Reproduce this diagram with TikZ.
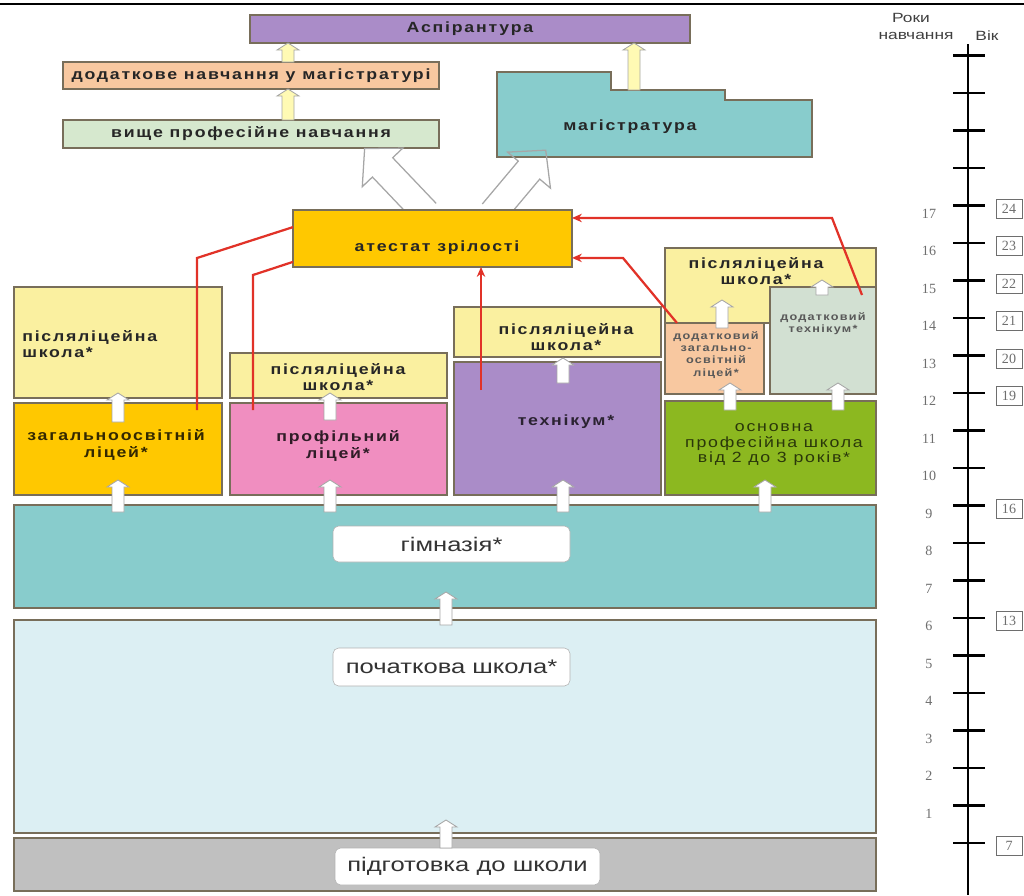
\documentclass[tikz,border=0pt]{standalone}
\usepackage{fontspec}
\setmainfont{Liberation Sans}
\newfontfamily\labfont[FakeStretch=1.2,LetterSpace=12]{Liberation Sans}
\newfontfamily\tagfont[FakeStretch=1.3]{Liberation Sans}
\newfontfamily\numfont{Liberation Serif}
\usetikzlibrary{arrows.meta,calc}
\definecolor{boxline}{RGB}{120,110,90}
\definecolor{lila}{RGB}{170,140,200}
\definecolor{peach}{RGB}{248,200,160}
\definecolor{palegreen}{RGB}{214,232,206}
\definecolor{teal2}{RGB}{136,204,204}
\definecolor{gold}{RGB}{255,200,0}
\definecolor{paleyellow}{RGB}{250,240,160}
\definecolor{pink2}{RGB}{240,142,192}
\definecolor{leaf}{RGB}{140,184,32}
\definecolor{sage}{RGB}{210,224,210}
\definecolor{paleblue}{RGB}{220,239,243}
\definecolor{prepgray}{RGB}{192,192,192}
\definecolor{redline}{RGB}{225,50,40}
\definecolor{arrowyellow}{RGB}{255,250,180}
\definecolor{scalegray}{RGB}{110,110,110}
% block arrow pointing up: x, y of base, y of tip
\newcommand\blockup[4][white]{\filldraw[up,fill=#1] (#2-6,#3) -- (#2-6,#4+7)
  -- (#2-11,#4+7) -- (#2,#4) -- (#2+11,#4+7) -- (#2+6,#4+7) -- (#2+6,#3) -- cycle;}
% big open arrow: x, y of base, angle, length
\newcommand\bigarr[4]{\draw[hollow,shift={(#1,#2)},rotate=#3] (0,-14) -- (#4-26,-14)
  -- (#4-26,-28) -- (#4,0) -- (#4-26,28) -- (#4-26,14) -- (0,14);}
\begin{document}
\begin{tikzpicture}[x=0.025cm,y=-0.025cm,
  box/.style={draw=boxline,line width=0.9pt,inner sep=0pt,outer sep=0pt},
  sz/.style 2 args={minimum width=#1*0.025cm,minimum height=#2*0.025cm},
  lab/.style={font=\labfont\bfseries\fontsize{10.5}{11.5}\selectfont,align=center,text=black!85,inner sep=0pt},
  small/.style={font=\labfont\bfseries\fontsize{7.5}{8.6}\selectfont,align=center,text=black!65,inner sep=0pt},
  tag/.style={draw=gray!60,fill=white,rounded corners=4pt,inner sep=0pt,font=\tagfont\fontsize{14}{16}\selectfont,text=black!80},
  up/.style={draw=gray!70,line width=0.6pt},
  hollow/.style={draw=gray!70,line width=0.9pt},
  redl/.style={draw=redline,line width=1.6pt},
  num/.style={font=\numfont\fontsize{10}{12}\selectfont,text=scalegray},
  age/.style={draw=scalegray,line width=0.6pt,sz={26}{19},inner sep=0pt,font=\numfont\fontsize{10}{12}\selectfont,text=scalegray},
  hdr/.style={font=\tagfont\fontsize{9.5}{11}\selectfont,text=black!75}]
\useasboundingbox (0,0) rectangle (1024,895);
\draw[line width=1.5pt] (0,4) -- (1024,4);

% higher education
\node[box,fill=lila,sz={440}{28},lab] (asp) at (470,29) {Аспірантура};
\node[box,fill=peach,sz={376}{27},lab] (dodmag) at (251,75.5) {додаткове навчання у магістратурі};
\node[box,fill=palegreen,sz={376}{28},lab] (vpn) at (251,134) {вище професійне навчання};
\draw[box,fill=teal2] (497,72) -- (611,72) -- (611,90) -- (725,90) -- (725,100)
  -- (812,100) -- (812,157) -- (497,157) -- cycle;
\node[lab] (mag) at (630,127) {магістратура};
\blockup[arrowyellow]{288}{62}{43}
\blockup[arrowyellow]{288}{120}{89}
\blockup[arrowyellow]{634}{90}{43}
\bigarr{426}{213}{133.6}{89}
\bigarr{493}{213}{50}{82}
\node[box,fill=gold,sz={279}{57}] (atest) at (432.5,238.5) {};
\node[lab] (atestT) at (437,248) {атестат зрілості};

% secondary level
\node[box,fill=paleyellow,sz={208}{111}] (pl1) at (118,342.5) {};
\node[box,fill=gold,sz={208}{92}] (zlic) at (118,449) {};
\node[box,fill=paleyellow,sz={217}{45}] (pl2) at (338.5,375.5) {};
\node[box,fill=pink2,sz={217}{92}] (plic) at (338.5,449) {};
\node[box,fill=paleyellow,sz={207}{50}] (pl3) at (557.5,332) {};
\node[box,fill=lila,sz={207}{133}] (tech) at (557.5,428.5) {};
\node[box,fill=paleyellow,sz={211}{75}] (pl4) at (770.5,285.5) {};
\node[box,fill=peach,sz={99}{71}] (dzl) at (714.5,358.5) {};
\node[box,fill=sage,sz={106}{107}] (dtech) at (823,340.5) {};
\node[box,fill=leaf,sz={211}{94}] (osn) at (770.5,448) {};
\node[lab,anchor=west,align=left] (pl1T) at (22,344) {післяліцейна\\школа*};
\node[lab,text=black!80!gold] (zlicT) at (116,445) {загальноосвітній\\ліцей*};
\node[lab] (pl2T) at (338,377) {післяліцейна\\школа*};
\node[lab,text=black!80!pink2] (plicT) at (338,446) {профільний\\ліцей*};
\node[lab] (pl3T) at (566,337) {післяліцейна\\школа*};
\node[lab,text=black!75!lila] (techT) at (566,422) {технікум*};
\node[lab] (pl4T) at (756,271) {післяліцейна\\школа*};
\node[small] (dzlT) at (716,355) {додатковий\\загально-\\освітній\\ліцей*};
\node[small] (dtechT) at (823,324) {додатковий\\технікум*};
\node[lab,font=\labfont\fontsize{10.5}{11}\selectfont,text=black!70!leaf] (osnT) at (774,445)
  {основна\\професійна школа\\від 2 до 3 років*};

% basic levels
\node[box,fill=teal2,sz={862}{103}] (gym) at (445,556.5) {};
\node[box,fill=paleblue,sz={862}{213}] (poch) at (445,726.5) {};
\node[box,fill=prepgray,sz={862}{53}] (prep) at (445,864.5) {};
\node[tag,sz={237}{36}] (gymT) at (451.5,544) {гімназія*};
\node[tag,sz={237}{38}] (pochT) at (451.5,667) {початкова школа*};
\node[tag,sz={265}{37}] (prepT) at (467.5,866.5) {підготовка до школи};

% transitions
\blockup{118}{422}{393} \blockup{330}{420}{393} \blockup{563}{383}{358}
\blockup{722}{328}{300} \blockup{822}{295}{280}
\blockup{730}{410}{383} \blockup{838}{410}{383}
\foreach \x in {118,330,563,765} {\blockup{\x}{512}{480}}
\blockup{446}{625}{592} \blockup{446}{848}{820}

% routes to the certificate
\coordinate (z1) at (197,410); \coordinate (p1) at (253,410);
\coordinate (t1) at (481,390); \coordinate (d1) at (677,323);
\coordinate (d2) at (862,295);
\draw[redl] (z1) -- ++(0,-152) -- ($(atest.north west)!.3!(atest.south west)$);
\draw[redl] (p1) -- ++(0,-135) -- ($(atest.north west)!.91!(atest.south west)$);
\draw[redl,-{Stealth[length=7pt,width=6pt]}] (t1) -- (t1 |- atest.south);
\draw[redl,-{Stealth[length=7pt,width=6pt]}] (d1) -- ++(-54,-65)
  -- ($(atest.north east)!.84!(atest.south east)$);
\draw[redl,-{Stealth[length=7pt,width=6pt]}] (d2) -- ++(-30,-77)
  -- ($(atest.north east)!.14!(atest.south east)$);

% scale of years
\node[hdr] (roky) at (911,18) {Роки};
\node[hdr] (navch) at (916,36) {навчання};
\node[hdr] (vik) at (987,36) {Вік};
\draw[line width=2pt] (968,44) -- (968,895);
\foreach \k in {0,...,21} \draw[line width=1.8pt] (953,843-37.5*\k) -- (985,843-37.5*\k);
\foreach \k in {1,...,17} \node[num] (n\k) at (929,851-37.5*\k) {\k};
\foreach \k/\a in {17/24,16/23,15/22,14/21,13/20,12/19,9/16,6/13,0/7}
  \node[age] (a\a) at (1009,846-37.5*\k) {\a};
\end{tikzpicture}
\end{document}
